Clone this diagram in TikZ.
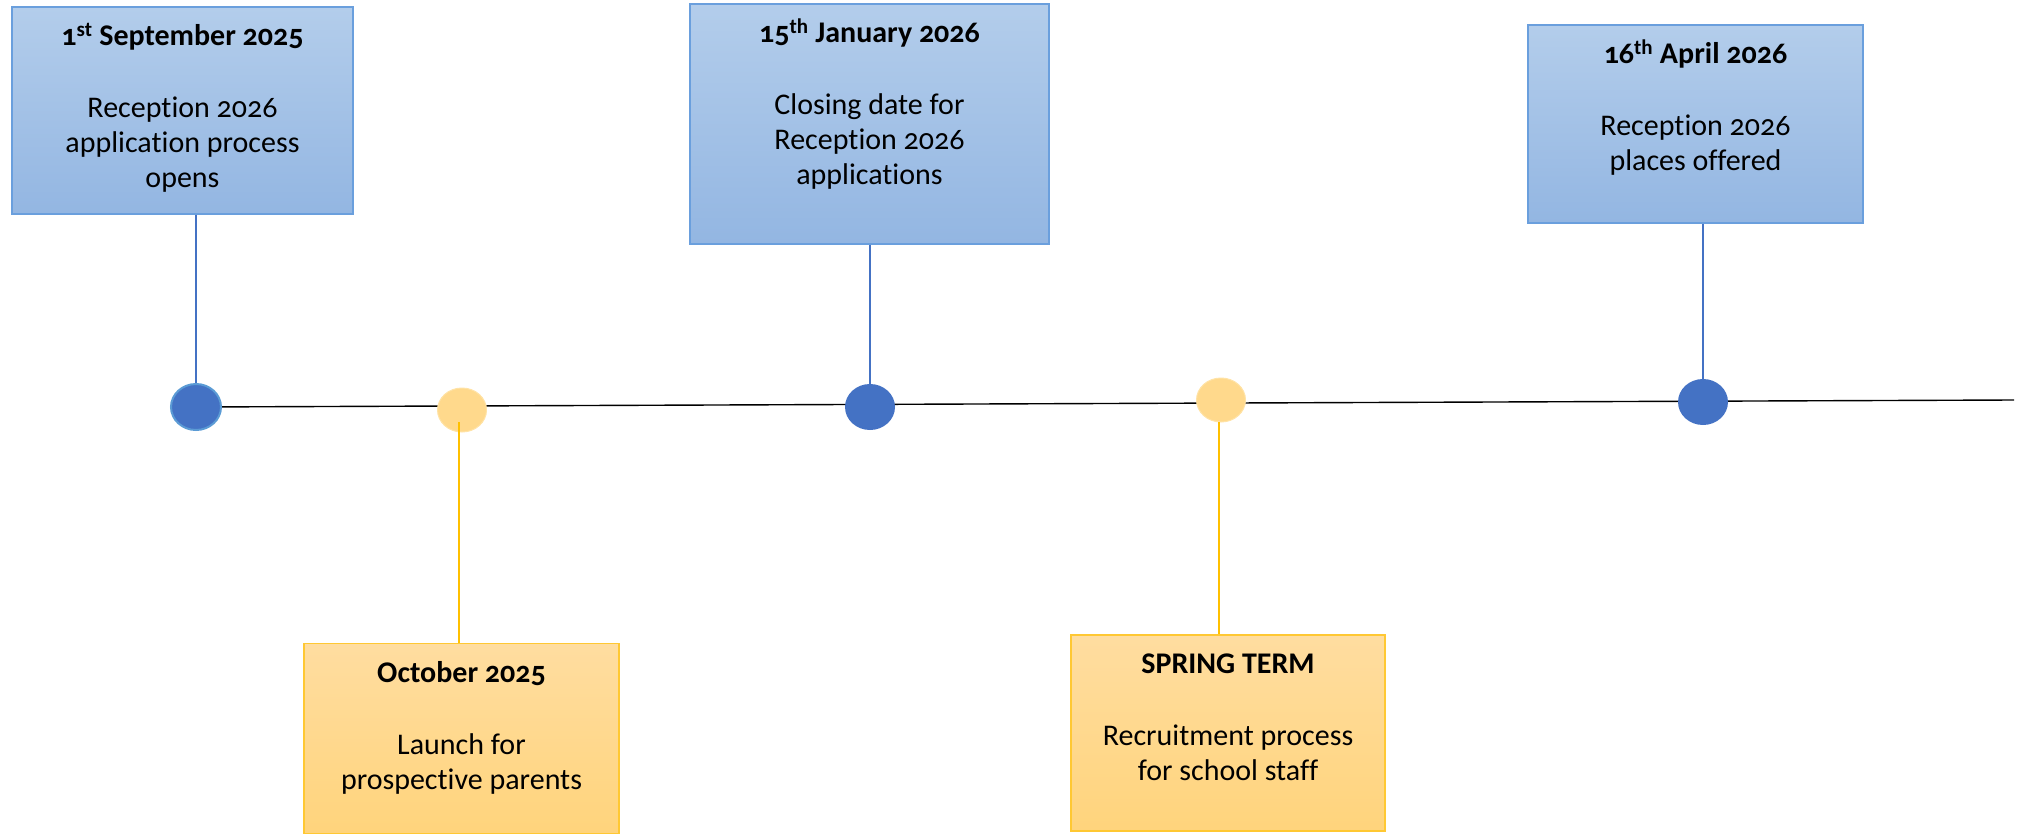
\documentclass[tikz,border=0pt]{standalone}
\usepackage{fontspec}
\setmainfont{Carlito}[Numbers=OldStyle,Ligatures=NoCommon]
\usetikzlibrary{shapes.geometric,calc}
\definecolor{bluetop}{HTML}{B3CDEB}
\definecolor{bluebot}{HTML}{93B6E2}
\definecolor{blueedge}{HTML}{6A9FDD}
\definecolor{bluedot}{HTML}{4472C4}
\definecolor{bluering}{HTML}{5B9BD5}
\definecolor{yeltop}{HTML}{FFDDA0}
\definecolor{yelbot}{HTML}{FFD47C}
\definecolor{yeledge}{HTML}{FFC833}
\definecolor{yeldot}{HTML}{FFD98C}
\definecolor{yelring}{HTML}{FFE3A6}
\definecolor{yelline}{HTML}{FFC000}
\tikzset{
  bluebox/.style={draw=blueedge, line width=1.3pt, top color=bluetop, bottom color=bluebot, inner sep=0pt},
  yelbox/.style={draw=yeledge, line width=1.3pt, top color=yeltop, bottom color=yelbot, inner sep=0pt},
  boxtext/.style={anchor=north, align=center, inner sep=0pt, font=\fontsize{30}{35}\selectfont},
  bluedotstyle/.style={ellipse, fill=bluedot, minimum width=50pt, minimum height=46pt, inner sep=0pt},
  yeldotstyle/.style={ellipse, fill=yeldot, draw=yelring, line width=1pt, minimum width=49pt, minimum height=44pt, inner sep=0pt},
  bluelink/.style={draw=bluedot, line width=1.2pt},
  yellink/.style={draw=yelline, line width=1.4pt},
  axis/.style={draw=black, line width=1.4pt}
}
\newcommand{\ttl}[1]{{\fontsize{30}{35}\selectfont\bfseries\rule{0pt}{24pt}#1}\\[37pt]}
\begin{document}
\begin{tikzpicture}[x=1pt,y=-1pt]
\useasboundingbox (0,0) rectangle (2022,835);
% boxes
\node[bluebox, minimum width=341pt, minimum height=207pt] (b1) at (182.5,110.5) {};
\node[bluebox, minimum width=359pt, minimum height=240pt] (b2) at (869.5,124) {};
\node[bluebox, minimum width=335pt, minimum height=198pt] (b3) at (1695.5,124) {};
\node[yelbox, minimum width=315pt, minimum height=190pt] (y1) at (461.5,738.5) {};
\node[yelbox, minimum width=314pt, minimum height=196pt] (y2) at (1228,733) {};
% texts
\node[boxtext] (t1) at ($(b1.north)+(0,15)$) {\ttl{1\textsuperscript{st} September 2025}Reception 2026\\application process\\opens};
\node[boxtext] (t2) at ($(b2.north)+(0,15)$) {\ttl{15\textsuperscript{th} January 2026}Closing date for\\Reception 2026\\applications};
\node[boxtext] (t3) at ($(b3.north)+(0,15)$) {\ttl{16\textsuperscript{th} April 2026}Reception 2026\\places offered};
\node[boxtext] (t4) at ($(y1.north)+(0,15)$) {\ttl{October 2025}Launch for\\prospective parents};
\node[boxtext] (t5) at ($(y2.north)+(0,15)$) {\ttl{SPRING TERM}Recruitment process\\for school staff};
% timeline
\coordinate (c1pos) at (196,407);
\coordinate (tend) at (2014,400);
\draw[axis] (c1pos) -- (tend);
% dots
\node[bluedotstyle, draw=bluering, line width=2pt] (c1) at (c1pos) {};
\node[yeldotstyle] (c2) at (462,410) {};
\node[bluedotstyle] (c3) at (870,407) {};
\node[yeldotstyle] (c4) at (1221,400) {};
\node[bluedotstyle] (c5) at (1703,402) {};
% connectors
\draw[bluelink] (c1.north |- b1.south) -- (c1.north);
\draw[bluelink] (c3.north |- b2.south) -- (c3.north);
\draw[bluelink] (c5.north |- b3.south) -- (c5.north);
\coordinate (s2) at (459,422);
\coordinate (s4) at (1219,422);
\draw[yellink] (s2) -- (s2 |- y1.north);
\draw[yellink] (s4) -- (s4 |- y2.north);
\end{tikzpicture}
\end{document}
